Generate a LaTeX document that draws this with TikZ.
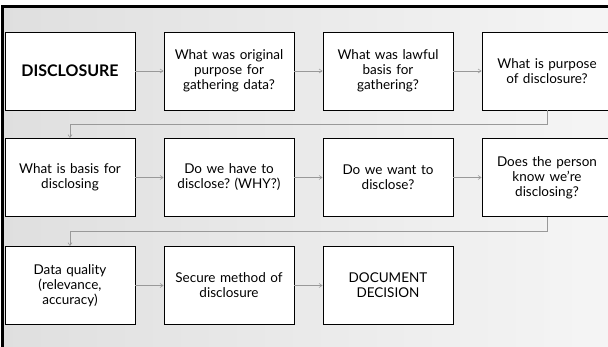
\documentclass[tikz,border=0pt]{standalone}
\usepackage{fontspec}
\setmainfont{Lato}
\frenchspacing
\usetikzlibrary{arrows.meta,positioning}
\begin{document}
\begin{tikzpicture}[x=1pt,y=1pt,
  stepbox/.style={draw=black,line width=0.8pt,fill=white,minimum width=130pt,minimum height=78pt,
    inner sep=2pt,align=center,font=\fontsize{13.5}{15}\selectfont,text width=126pt},
  link/.style={draw=gray!80,line width=0.6pt,-{Straight Barb[length=3pt,width=4pt]}}]
\useasboundingbox (0,0) rectangle (608,-347);
\clip (0,0) rectangle (608,-347);
\fill[white] (0,0) rectangle (608,-347);
\shade[shading angle=120,left color=gray!25,right color=gray!8] (2,-6) rectangle (608,-347);
% frame bars
\fill[black] (1,-5) rectangle (608,-8);
\fill[black] (1,-5) rectangle (3.5,-347);
% nodes
\node[stepbox,font=\fontsize{16}{18}\selectfont\bfseries] (b1) at (70,-71) {DISCLOSURE};
\node[stepbox] (b2) at (229,-71) {What was original\\purpose for\\gathering data?};
\node[stepbox] (b3) at (388,-71) {What was lawful\\basis for\\gathering?};
\node[stepbox] (b4) at (547,-71) {What is purpose\\of disclosure?};
\node[stepbox] (c1) at (70,-177.5) {What is basis for\\disclosing};
\node[stepbox] (c2) at (229,-177.5) {Do we have to\\disclose? (WHY?)};
\node[stepbox] (c3) at (388,-177.5) {Do we want to\\disclose?};
\node[stepbox] (c4) at (547,-177.5) {Does the person\\know we’re\\disclosing?};
\node[stepbox] (d1) at (70,-285.5) {Data quality\\(relevance,\\accuracy)};
\node[stepbox] (d2) at (229,-285.5) {Secure method of\\disclosure};
\node[stepbox] (d3) at (388,-285.5) {DOCUMENT\\DECISION};
% connectors
\draw[link] (b1) -- (b2);
\draw[link] (b2) -- (b3);
\draw[link] (b3) -- (b4);
\draw[link] (b4.south) -- ++(0,-14) -| (c1.north);
\draw[link] (c1) -- (c2);
\draw[link] (c2) -- (c3);
\draw[link] (c3) -- (c4);
\draw[link] (c4.south) -- ++(0,-14.5) -| (d1.north);
\draw[link] (d1) -- (d2);
\draw[link] (d2) -- (d3);
\end{tikzpicture}
\end{document}
